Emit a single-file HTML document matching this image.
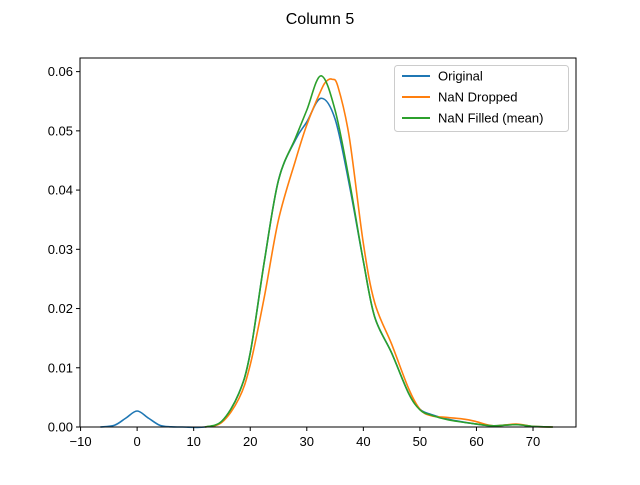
<!DOCTYPE html>
<html><head><meta charset="utf-8"><style>
body{margin:0;background:#fff;}
svg text{font-family:"Liberation Sans","DejaVu Sans",sans-serif;}
</style></head><body>
<svg id="chart" width="640" height="480" viewBox="0 0 640 480">
<text x="320" y="24" text-anchor="middle" font-size="16">Column 5</text>
<g id="plot"></g>
<rect x="80" y="58" width="496" height="369" fill="none" stroke="#000" stroke-width="1"/>
<g>
<rect x="394.5" y="65.5" width="174" height="66" rx="3" fill="#fff" fill-opacity="0.8" stroke="#ccc"/>
<line x1="402" y1="76" x2="430" y2="76" stroke="#1f77b4" stroke-width="2"/>
<text x="438" y="80.5" font-size="13">Original</text>
<line x1="402" y1="97" x2="430" y2="97" stroke="#ff7f0e" stroke-width="2"/>
<text x="438" y="101.5" font-size="13">NaN Dropped</text>
<line x1="402" y1="118" x2="430" y2="118" stroke="#2ca02c" stroke-width="2"/>
<text x="438" y="122.5" font-size="13">NaN Filled (mean)</text>
</g>
</svg>
<script>
const xTicks=[-10,0,10,20,30,40,50,60,70];
const yTicks=[0,0.01,0.02,0.03,0.04,0.05,0.06];
const yTickLabels=["0.00","0.01","0.02","0.03","0.04","0.05","0.06"];
const xOriginal=[-6.5,-4,-2,0,2,4,6,8,12,15,18,20,22.5,25,28,30,32.5,35,37.5,40,42,45,48,50,52,55,60,63,67,70,73.5];
const yOriginal=[0,0.0003,0.0015,0.0027,0.0015,0.0003,0.00003,0,0,0.001,0.0057,0.0125,0.028,0.0417,0.0485,0.0515,0.0555,0.052,0.041,0.028,0.0186,0.0125,0.0057,0.003,0.0021,0.0013,0.0005,0.0002,0.0004,0.0001,0];
const xDropped=[12,15,18,20,22.5,25,28,30,32.5,33.5,34.5,35.5,37.5,40,42,45,48,50,52,55,58,60,63,67,70,73.5];
const yDropped=[0,0.0008,0.0048,0.0105,0.022,0.035,0.045,0.051,0.0568,0.0584,0.0587,0.0575,0.049,0.031,0.021,0.014,0.0065,0.003,0.0019,0.0016,0.0013,0.0009,0.0002,0.0005,0.0001,0];
const xFilled=[12,15,18,20,22.5,25,28,30,32.5,35,37.5,40,42,45,48,50,52,55,60,63,67,70,73.5];
const yFilled=[0,0.001,0.0057,0.0125,0.028,0.0417,0.0488,0.0535,0.0593,0.0535,0.0417,0.028,0.0186,0.0125,0.0057,0.0029,0.002,0.0012,0.0005,0.0002,0.0004,0.0001,0];

const X0=80,X1=576,Y0=427,Y1=58;
const xMin=-10.1,xMax=77.6,yMin=0,yMax=0.0623;
function sx(v){return X0+(v-xMin)/(xMax-xMin)*(X1-X0);}
function sy(v){return Y0-(v-yMin)/(yMax-yMin)*(Y0-Y1);}
const NS="http://www.w3.org/2000/svg";
const plot=document.getElementById('plot');
function path(xs,ys,color,name){
  const p=xs.map((x,i)=>[sx(x),sy(ys[i])]);
  let d="M"+p[0][0]+","+p[0][1];
  for(let i=0;i<p.length-1;i++){
    const a=p[Math.max(i-1,0)],b=p[i],c=p[i+1],e=p[Math.min(i+2,p.length-1)];
    const c1=[b[0]+(c[0]-a[0])/6,b[1]+(c[1]-a[1])/6];
    const c2=[c[0]-(e[0]-b[0])/6,c[1]-(e[1]-b[1])/6];
    d+=" C"+c1[0]+","+c1[1]+" "+c2[0]+","+c2[1]+" "+c[0]+","+c[1];
  }
  const el=document.createElementNS(NS,'path');
  el.setAttribute('d',d);el.setAttribute('fill','none');el.setAttribute('stroke',color);el.setAttribute('stroke-width','1.6');
  
  
  plot.appendChild(el);
}
path(xOriginal,yOriginal,'#1f77b4','line-original');
path(xDropped,yDropped,'#ff7f0e','line-nan-dropped');
path(xFilled,yFilled,'#2ca02c','line-nan-filled');
xTicks.forEach(t=>{
  const x=sx(t);
  const l=document.createElementNS(NS,'line');
  l.setAttribute('x1',x);l.setAttribute('x2',x);l.setAttribute('y1',Y0);l.setAttribute('y2',Y0+4);l.setAttribute('stroke','#000');
  
  
  plot.appendChild(l);
  const tx=document.createElementNS(NS,'text');
  tx.setAttribute('x',x);tx.setAttribute('y',Y0+19);tx.setAttribute('text-anchor','middle');tx.setAttribute('font-size','13');
  tx.textContent=(t<0?"\u2212"+(-t):t);
  
  
  plot.appendChild(tx);
});
yTicks.forEach((t,i)=>{
  const y=sy(t);
  const l=document.createElementNS(NS,'line');
  l.setAttribute('x1',X0-4);l.setAttribute('x2',X0);l.setAttribute('y1',y);l.setAttribute('y2',y);l.setAttribute('stroke','#000');
  
  
  plot.appendChild(l);
  const tx=document.createElementNS(NS,'text');
  tx.setAttribute('x',X0-7);tx.setAttribute('y',y+4.5);tx.setAttribute('text-anchor','end');tx.setAttribute('font-size','13');
  tx.textContent=yTickLabels[i];
  
  
  plot.appendChild(tx);
});
</script>
</body></html>
